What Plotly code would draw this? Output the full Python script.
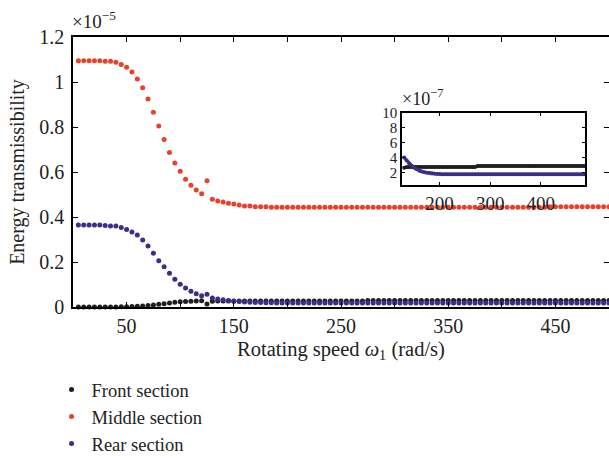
import plotly.graph_objects as go

# Rotating speed (rad/s)
speed = list(range(5, 505, 5))

# Energy transmissibility, in units of 1e-5
front = ([0.0] * 7 + [0.0005, 0.001, 0.0015,
         0.002, 0.003, 0.005, 0.007, 0.009, 0.012, 0.015, 0.018, 0.021, 0.023,
         0.025, 0.026, 0.027, 0.028, 0.013, 0.026]
         + [0.027] * 28 + [0.0285] * 46)

middle = ([1.095] * 5 + [1.092, 1.092, 1.088, 1.078, 1.066, 1.045, 1.013, 0.974,
          0.924, 0.866, 0.804, 0.745, 0.687, 0.640, 0.603, 0.568, 0.541, 0.520,
          0.503, 0.561, 0.479, 0.471, 0.467, 0.461, 0.458, 0.453, 0.449, 0.449,
          0.446, 0.446, 0.446]
          + [0.443] * 52 + [0.446] * 12)

rear = ([0.364] * 5 + [0.362, 0.360, 0.360, 0.353, 0.345, 0.333, 0.320, 0.298,
        0.271, 0.239, 0.206, 0.179, 0.150, 0.123, 0.101, 0.085, 0.070, 0.059,
        0.050, 0.057, 0.040, 0.036, 0.032, 0.029, 0.026, 0.024, 0.022, 0.021,
        0.020, 0.0195, 0.019, 0.0185, 0.018, 0.0178, 0.0176, 0.0175, 0.0174,
        0.0173]
        + [0.0173] * 57)

names = ["Front section", "Middle section", "Rear section"]
colors = ["#1e1e1e", "#e8402a", "#3c2c8c"]

x_tickvals = list(range(50, 501, 50))
x_ticktext = [str(v) if v % 100 == 50 else "" for v in x_tickvals]
y_tickvals = [0, 0.2, 0.4, 0.6, 0.8, 1.0, 1.2]
y_ticktext = ["0", "0.2", "0.4", "0.6", "0.8", "1", "1.2"]

inset_xticks = [200, 300, 400]
inset_yticks = [2, 4, 6, 8, 10]

FONT = "Liberation Serif"
TXT = "#222"

fig = go.Figure()
for name, ys, c in zip(names, [front, middle, rear], colors):
    fig.add_trace(go.Scatter(x=speed, y=ys, mode="markers", name=name,
                             marker=dict(size=5, color=c), cliponaxis=False,
                             xaxis="x", yaxis="y"))

# inset: same data, in units of 1e-7, for speed >= 130
for ys, c in [(front, colors[0]), (rear, colors[2])]:
    xs = [s for s in speed if s >= 130]
    yv = [v * 100 for s, v in zip(speed, ys) if s >= 130]
    fig.add_trace(go.Scatter(x=xs, y=yv, mode="lines+markers", showlegend=False,
                             line=dict(color=c, width=3),
                             marker=dict(size=4, color=c),
                             xaxis="x2", yaxis="y2"))

axis_common = dict(showline=True, linecolor="black", linewidth=1.5, mirror="ticks",
                   ticks="inside", ticklen=5, tickcolor="black", showgrid=False,
                   zeroline=False, tickfont=dict(family=FONT, size=20, color=TXT))

fig.update_layout(
    width=609, height=459,
    margin=dict(l=73, r=0, t=37, b=152, autoexpand=False),
    plot_bgcolor="white", paper_bgcolor="white",
    font=dict(family=FONT, size=18, color=TXT),
    xaxis=dict(range=[0, 500], domain=[0, 1], tickvals=x_tickvals, ticktext=x_ticktext,
               title=dict(text="Rotating speed <i>ω</i><sub>1</sub> (rad/s)",
                          font=dict(family=FONT, size=20.5), standoff=6),
               **axis_common),
    yaxis=dict(range=[0, 1.2], domain=[0, 1], tickvals=y_tickvals, ticktext=y_ticktext,
               ticklabelstandoff=3,
               title=dict(text="Energy transmissibility", font=dict(family=FONT, size=20),
                          standoff=9),
               **axis_common),
    xaxis2=dict(range=[126, 487], domain=[0.614, 0.955], anchor="y2",
                tickvals=inset_xticks,
                **{**axis_common, "ticklen": 3,
                   "tickfont": dict(family=FONT, size=19, color=TXT)}),
    yaxis2=dict(range=[0.3, 10], domain=[0.452, 0.719], anchor="x2",
                tickvals=inset_yticks,
                **{**axis_common, "ticklen": 3,
                   "tickfont": dict(family=FONT, size=15, color=TXT)}),
    legend=dict(x=-0.04, y=-0.237, xanchor="left", yanchor="top",
                font=dict(family=FONT, size=18.5, color=TXT),
                bgcolor="rgba(0,0,0,0)", tracegroupgap=0),
    annotations=[
        dict(text="×10<sup>−5</sup>", x=0, y=1.0, xref="paper", yref="paper",
             xanchor="left", yanchor="bottom", yshift=3, xshift=-3, showarrow=False,
             font=dict(family=FONT, size=19, color=TXT)),
        dict(text="×10<sup>−7</sup>", x=0.614, y=0.719, xref="paper", yref="paper",
             xanchor="left", yanchor="bottom", yshift=2, xshift=-2, showarrow=False,
             font=dict(family=FONT, size=18, color=TXT)),
    ],
)

fig.write_html("out.html")
